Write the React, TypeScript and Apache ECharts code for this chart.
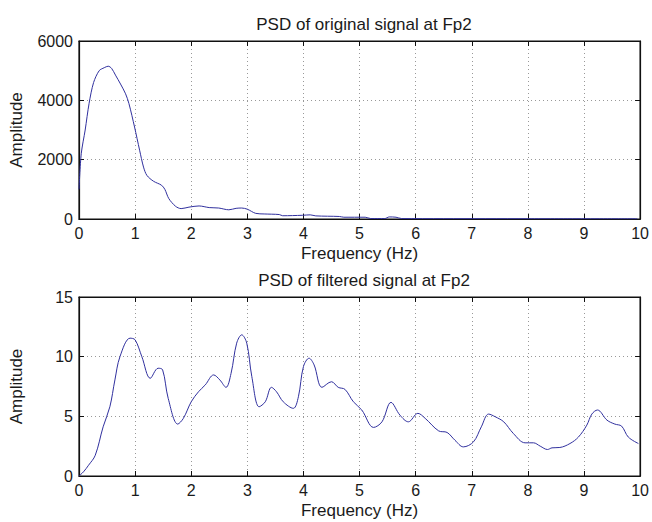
import React, { useEffect, useRef } from "react";
import * as echarts from "echarts";

const topTitle = "PSD of original signal at Fp2";
const bottomTitle = "PSD of filtered signal at Fp2";
const xName = "Frequency (Hz)";
const yName = "Amplitude";

const origFreq = [0, 0.04, 0.11, 0.18, 0.26, 0.36, 0.45, 0.52, 0.58, 0.65, 0.74, 0.83, 0.89, 0.99, 1.08, 1.15, 1.21, 1.33, 1.47, 1.53, 1.6, 1.72, 1.82, 1.96, 2.14, 2.32, 2.49, 2.67, 2.8, 2.9, 3.0, 3.15, 3.3, 3.57, 3.63, 3.98, 4.12, 4.22, 4.64, 4.72, 5.1, 5.2, 5.45, 5.53, 5.65, 5.75, 6.5, 8.0, 9.95];
const origPsd = [1000, 2200, 3000, 3900, 4600, 5000, 5100, 5150, 5080, 4850, 4550, 4220, 3890, 3100, 2320, 1750, 1470, 1270, 1140, 1000, 690, 430, 350, 400, 440, 385, 370, 310, 360, 370, 330, 190, 170, 150, 110, 125, 140, 105, 85, 60, 60, 15, 15, 70, 60, 15, 12, 10, 8];

const filtFreq = [0, 0.08, 0.17, 0.29, 0.43, 0.55, 0.64, 0.73, 0.91, 1.0, 1.12, 1.27, 1.41, 1.49, 1.59, 1.76, 1.86, 2.0, 2.13, 2.25, 2.4, 2.51, 2.62, 2.71, 2.81, 2.9, 2.99, 3.08, 3.21, 3.32, 3.43, 3.52, 3.64, 3.82, 3.91, 4.0, 4.1, 4.19, 4.33, 4.5, 4.62, 4.74, 4.89, 5.04, 5.25, 5.4, 5.56, 5.72, 5.87, 6.04, 6.17, 6.41, 6.56, 6.7, 6.85, 7.03, 7.17, 7.3, 7.42, 7.57, 7.74, 7.95, 8.1, 8.22, 8.35, 8.43, 8.57, 8.75, 8.9, 9.05, 9.14, 9.24, 9.41, 9.55, 9.67, 9.79, 9.97];
const filtPsd = [0, 0.35, 0.9, 1.74, 4.12, 5.8, 8.05, 10.0, 11.55, 11.41, 10.0, 8.19, 9.03, 8.9, 6.5, 4.35, 4.83, 6.22, 7.06, 7.63, 8.47, 8.05, 7.43, 8.6, 11.13, 11.83, 11.13, 8.33, 5.8, 6.22, 7.43, 7.06, 6.22, 5.67, 6.64, 9.17, 9.87, 9.31, 7.43, 7.9, 7.43, 7.26, 6.22, 5.53, 4.07, 4.54, 6.17, 5.1, 4.54, 5.25, 4.83, 3.78, 3.65, 3.0, 2.44, 2.86, 4.12, 5.19, 4.96, 4.54, 3.57, 2.78, 2.78, 2.5, 2.22, 2.36, 2.39, 2.72, 3.26, 4.26, 5.19, 5.53, 4.68, 4.35, 4.18, 3.26, 2.72];

const xTicks = [0, 10, 1];
const topY = [0, 6000, 2000];
const bottomY = [0, 15, 5];

const FONT = "Liberation Sans, Arial, sans-serif";
const TXT = "#1a1a1a";
const AX = "#111";
const LINE = "#30309e";

export default function App() {
  const ref = useRef<HTMLDivElement>(null);
  useEffect(() => {
    document.body.style.margin = "0";
    const chart = echarts.init(ref.current!, undefined, { renderer: "svg" });
    const gridBase = { left: 77, right: 11, show: true, borderColor: AX, borderWidth: 1.2, backgroundColor: "transparent", z: 3 };
    const grids = [
      { ...gridBase, top: 41, height: 178 },
      { ...gridBase, top: 297, height: 179 },
    ];
    const splitLine = { show: true, lineStyle: { color: "#999", type: [1, 3], width: 1 } };
    const axisLine = { show: true, onZero: false, lineStyle: { color: AX, width: 1.2 } };
    const tickIn = { show: true, inside: true, length: 5, lineStyle: { color: AX, width: 1 } };
    const fmt = (v: number) => String(v);
    const xAxes: any[] = [];
    const yAxes: any[] = [];
    [0, 1].forEach((g) => {
      xAxes.push({
        type: "value", gridIndex: g, min: xTicks[0], max: xTicks[1], interval: xTicks[2],
        position: "bottom", name: xName, nameLocation: "middle", nameGap: 26,
        nameTextStyle: { fontFamily: FONT, fontSize: 17, color: TXT },
        axisLine, axisTick: tickIn, splitLine,
        axisLabel: { fontFamily: FONT, fontSize: 16, color: TXT, margin: 6, formatter: fmt },
      });
      xAxes.push({
        type: "value", gridIndex: g, min: xTicks[0], max: xTicks[1], interval: xTicks[2],
        position: "top", axisLine, axisTick: tickIn, splitLine: { show: false }, axisLabel: { show: false },
      });
      const yr = g === 0 ? topY : bottomY;
      yAxes.push({
        type: "value", gridIndex: g, min: yr[0], max: yr[1], interval: yr[2],
        position: "left", name: yName, nameLocation: "middle", nameGap: 54, nameRotate: 90,
        nameTextStyle: { fontFamily: FONT, fontSize: 17, color: TXT },
        axisLine, axisTick: tickIn, splitLine,
        axisLabel: { fontFamily: FONT, fontSize: 16, color: TXT, margin: 6, formatter: fmt },
      });
      yAxes.push({
        type: "value", gridIndex: g, min: yr[0], max: yr[1], interval: yr[2],
        position: "right", axisLine, axisTick: tickIn, splitLine: { show: false }, axisLabel: { show: false },
      });
    });
    chart.setOption({
      animation: false,
      backgroundColor: "#fff",
      title: [
        { text: topTitle, left: 359, top: 11, textAlign: "center", textStyle: { fontFamily: FONT, fontSize: 17, fontWeight: "normal", color: TXT } },
        { text: bottomTitle, left: 359, top: 267, textAlign: "center", textStyle: { fontFamily: FONT, fontSize: 17, fontWeight: "normal", color: TXT } },
      ],
      grid: grids,
      xAxis: xAxes,
      yAxis: yAxes,
      series: [
        {
          type: "line", xAxisIndex: 0, yAxisIndex: 0, showSymbol: false, smooth: 0.3,
          lineStyle: { color: LINE, width: 1 },
          data: origFreq.map((f, i) => [f, origPsd[i]]),
        },
        {
          type: "line", xAxisIndex: 2, yAxisIndex: 2, showSymbol: false, smooth: 0.35,
          lineStyle: { color: LINE, width: 1 },
          data: filtFreq.map((f, i) => [f, filtPsd[i]]),
        },
      ],
    });
    return () => chart.dispose();
  }, []);
  return <div ref={ref} style={{ width: 652, height: 522 }} />;
}
